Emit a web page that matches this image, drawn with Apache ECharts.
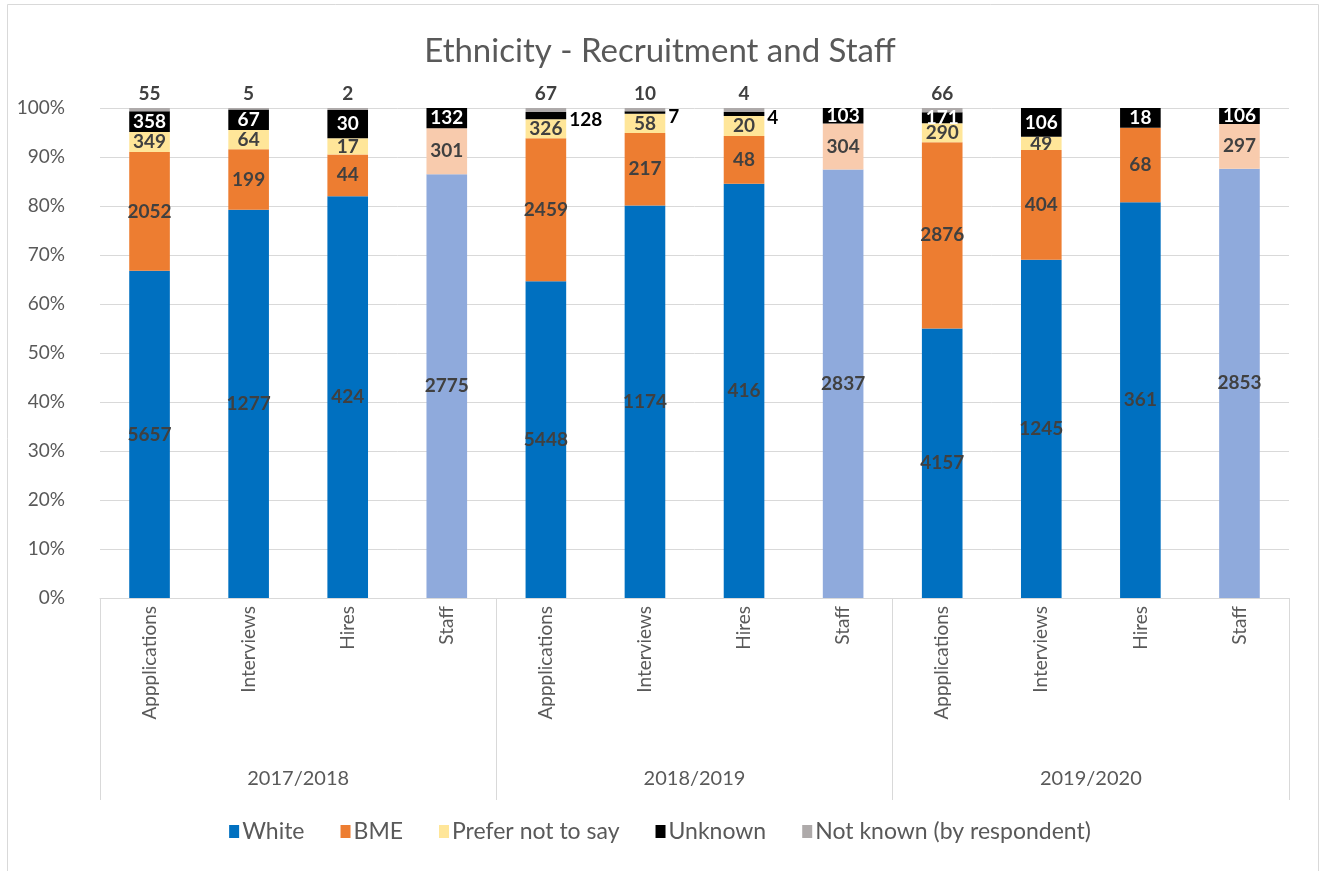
<!DOCTYPE html>
<html>
<head>
<meta charset="utf-8">
<script src="https://cdn.jsdelivr.net/npm/echarts@6/dist/echarts.min.js"></script>
<style>
  html, body { margin: 0; padding: 0; background: #ffffff; }
  #chart { width: 1320px; height: 871px; }
</style>
</head>
<body>
<div id="chart"></div>
<script>
// Category labels (inner level) and year groups (outer level)
const categories = [
  'Appplications', 'Interviews', 'Hires', 'Staff',
  'Appplications', 'Interviews', 'Hires', 'Staff',
  'Appplications', 'Interviews', 'Hires', 'Staff'
];
const years = ['2017/2018', '2018/2019', '2019/2020'];

// Head counts per ethnicity group, one entry per bar
const white     = [5657, 1277, 424, 2775, 5448, 1174, 416, 2837, 4157, 1245, 361, 2853];
const bme       = [2052,  199,  44,  301, 2459,  217,  48,  304, 2876,  404,  68,  297];
const preferNot = [ 349,   64,  17, null,  326,   58,  20, null,  290,   49, null, null];
const unknown   = [ 358,   67,  30,  132,  128,    7,   4,  103,  171,  106,  18,  106];
const notKnown  = [  55,    5,   2, null,   67,   10,   4, null,   66, null, null, null];

const seriesNames = ['White', 'BME', 'Prefer not to say', 'Unknown', 'Not known (by respondent)'];
const allCounts = [white, bme, preferNot, unknown, notKnown];

const totals = categories.map((_, i) =>
  allCounts.reduce((s, arr) => s + (arr[i] || 0), 0));

const FONT = 'Lato, "Liberation Sans", sans-serif';
const TEXT = '#595959';
const LABEL = '#404040';
const GRID_LINE = '#D9D9D9';

const colors = {
  'White': { base: '#0070C0', staff: '#8FAADC' },
  'BME': { base: '#ED7D31', staff: '#F8CBAD' },
  'Prefer not to say': { base: '#FFE699', staff: '#FFE699' },
  'Unknown': { base: '#000000', staff: '#000000' },
  'Not known (by respondent)': { base: '#AEAAAA', staff: '#AEAAAA' }
};

const baseLabel = { show: true, fontFamily: FONT, fontSize: 19, fontWeight: 'bold', color: LABEL };

function buildSeries(name, counts) {
  const data = counts.map((c, i) => {
    if (c === null || c === 0) return { value: null, label: { show: false } };
    const share = c / totals[i] * 100;
    const item = {
      value: share,
      itemStyle: { color: categories[i] === 'Staff' ? colors[name].staff : colors[name].base }
    };
    if (name === 'Unknown') {
      // thin slivers get their label beside the bar
      item.label = share < 2
        ? { position: 'right', color: '#000000', distance: 3, offset: [0, 4] }
        : { position: 'inside', color: '#ffffff' };
    } else if (name === 'Not known (by respondent)') {
      item.label = { position: 'top', distance: 5 };
    }
    return item;
  });
  return {
    name: name,
    type: 'bar',
    stack: 'total',
    xAxisIndex: 0,
    barWidth: '41%',
    itemStyle: { color: colors[name].base },
    label: Object.assign({}, baseLabel, {
      position: 'inside',
      formatter: p => String(counts[p.dataIndex])
    }),
    data: data
  };
}

const chart = echarts.init(document.getElementById('chart'), null, { renderer: 'canvas' });

chart.setOption({
  animation: false,
  backgroundColor: '#ffffff',
  graphic: [{
    type: 'rect',
    shape: { x: 7.5, y: 4.5, width: 1311, height: 900 },
    style: { fill: 'none', stroke: '#D9D9D9', lineWidth: 1 },
    silent: true, z: -10
  }],
  title: {
    text: 'Ethnicity - Recruitment and Staff',
    left: 'center',
    top: 30,
    textStyle: { fontFamily: FONT, fontSize: 33, fontWeight: 'normal', color: TEXT }
  },
  legend: {
    bottom: 23,
    left: 'center',
    itemWidth: 10,
    itemHeight: 13,
    itemGap: 36,
    icon: 'rect',
    textStyle: { fontFamily: FONT, fontSize: 23, color: TEXT, padding: [0, 0, 0, -2] },
    data: seriesNames
  },
  grid: { left: 100, right: 31, top: 108, bottom: 273, containLabel: false },
  xAxis: [
    {
      type: 'category',
      data: categories,
      position: 'bottom',
      axisLine: { show: true, lineStyle: { color: GRID_LINE, width: 1 } },
      axisTick: { show: false },
      axisLabel: {
        interval: 0, rotate: 90, margin: 8,
        fontFamily: FONT, fontSize: 19, color: TEXT
      }
    },
    {
      type: 'category',
      data: years,
      position: 'bottom',
      axisLine: { show: false },
      axisTick: { show: true, interval: 0, length: 202, lineStyle: { color: GRID_LINE, width: 1 } },
      axisLabel: { interval: 0, margin: 171, fontFamily: FONT, fontSize: 20, color: TEXT },
      splitLine: { show: false }
    }
  ],
  yAxis: {
    type: 'value',
    min: 0,
    max: 100,
    interval: 10,
    axisLine: { show: false },
    axisTick: { show: false },
    splitLine: { lineStyle: { color: GRID_LINE, width: 1 } },
    axisLabel: {
      margin: 35,
      formatter: v => v + '%',
      fontFamily: FONT, fontSize: 19, color: TEXT
    }
  },
  series: seriesNames.map((n, k) => buildSeries(n, allCounts[k]))
});
</script>
</body>
</html>
